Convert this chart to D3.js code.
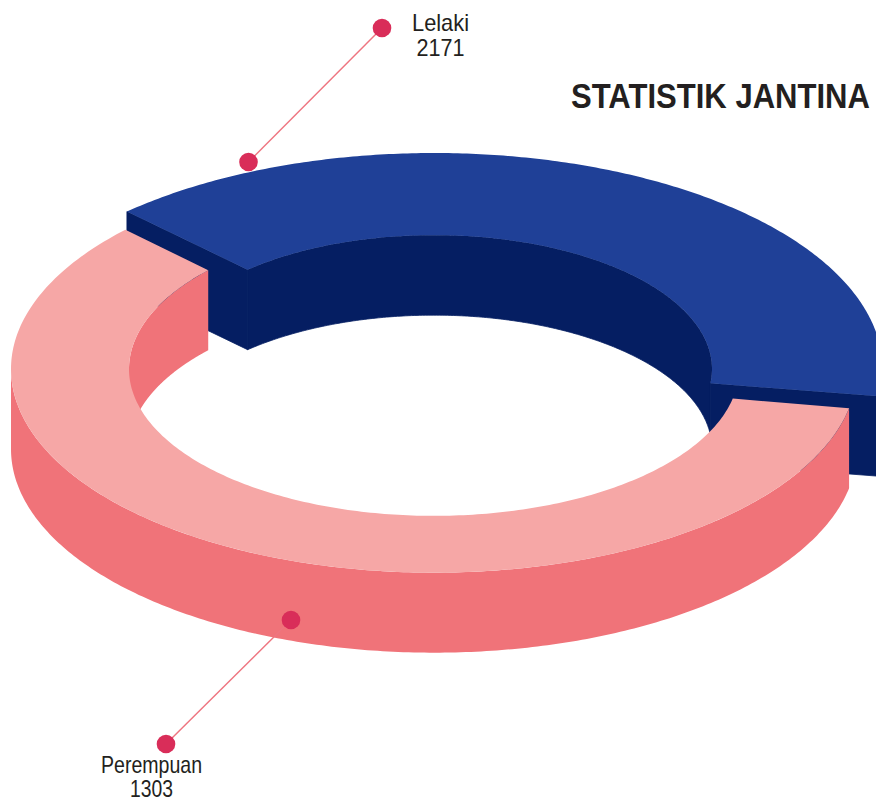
<!DOCTYPE html>
<html lang="en">
<head>
    <meta charset="UTF-8">
    <title>Statistik Jantina</title>
    <script src="https://d3js.org/d3.v7.min.js"></script>
    <style>
        html, body { margin: 0; padding: 0; background: #fff; overflow: hidden; }
        svg { display: block; }
        text { font-family: "Liberation Sans", Arial, sans-serif; fill: #231f20; }
        .title { font-weight: bold; font-size: 35px; }
        .label { font-size: 24px; text-anchor: middle; }
    </style>
</head>
<body>
    <script>
        // data
        const categories = ["Lelaki", "Perempuan"];
        const counts = [2171, 1303];
        // the drawing does not follow the counts, these shares are read off the picture
        const drawnShares = [39.7, 60.3];

        const width = 876;
        const height = 801;
        const cx = 434, cy = 369;
        const squash = 0.4815;      // ellipse height / width
        const depth = 80;           // ring thickness on screen
        const rad = d3.scaleLinear().domain([0, 180]).range([0, Math.PI]);
        const gap = rad(4.75);      // between the two pieces
        const firstAngle = rad(-42.5);

        const outerR = [448.6, 423];
        const innerR = [278, 305];
        // cut edges are not quite radial: degrees added at start outer/inner, end outer/inner
        const edgeSkew = [[-0.7, 0.4, 0.6, -0.5], [-0.3, 0.2, 0.4, -0.5]];
        const topColor = ["#1f4097", "#f6a7a6"];
        const sideColor = ["#051e62", "#f07379"];

        const svg = d3.select("body").append("svg")
            .attr("width", width)
            .attr("height", height);

        // angles come from d3.pie, in radians
        const pie = d3.pie().sort(null)
            .startAngle(firstAngle)
            .endAngle(firstAngle + 2 * Math.PI)
            .padAngle(gap);
        const slices = pie(drawnShares);
        const startOuter = i => slices[i].startAngle + rad(edgeSkew[i][0]);
        const startInner = i => slices[i].startAngle + rad(edgeSkew[i][1]);
        const endOuter = i => slices[i].endAngle - gap + rad(edgeSkew[i][2]);
        const endInner = i => slices[i].endAngle - gap + rad(edgeSkew[i][3]);

        // screen point of ring radius r, angle a (0 = top, clockwise), dropped by z
        const pt = (r, a, z) => [
            cx + r * Math.sin(a),
            cy - r * squash * Math.cos(a) + z
        ];
        const line = d3.line();
        const sweep = (a0, a1) => {
            const n = 240;
            return d3.range(n + 1).map(k => a0 + (a1 - a0) * k / n);
        };

        // top face of a piece
        function topFace(i) {
            const outer = sweep(startOuter(i), endOuter(i)).map(d => pt(outerR[i], d, 0));
            const inner = sweep(endInner(i), startInner(i)).map(d => pt(innerR[i], d, 0));
            return line(outer.concat(inner)) + "Z";
        }
        // wall hanging under an arc
        function wall(r, a0, a1) {
            const a = sweep(a0, a1);
            return line(a.map(d => pt(r, d, 0))
                .concat(a.slice().reverse().map(d => pt(r, d, depth)))) + "Z";
        }
        // flat end of a piece
        function endFace(i, aOuter, aInner) {
            return line([pt(outerR[i], aOuter, 0), pt(innerR[i], aInner, 0),
                pt(innerR[i], aInner, depth), pt(outerR[i], aOuter, depth)]) + "Z";
        }
        const addPath = (d, fill) => svg.append("path").attr("d", d).attr("fill", fill);

        // Lelaki piece, stroked a little so no seams show between the dark faces
        [endFace(0, startOuter(0), startInner(0)),
         wall(innerR[0], startInner(0), endInner(0)),
         endFace(0, endOuter(0), endInner(0))].forEach(d => {
            addPath(d, sideColor[0])
                .attr("stroke", sideColor[0])
                .attr("stroke-width", 0.8);
        });
        addPath(topFace(0), topColor[0]);

        // Perempuan piece, sits in front
        const leftSide = rad(270);
        addPath(wall(innerR[1], leftSide, endInner(1)), sideColor[1]);
        addPath(wall(outerR[1], startOuter(1), leftSide), sideColor[1]);
        addPath(topFace(1), topColor[1]);

        // leader lines with their dots
        const leaders = [
            { from: [248.5, 162], to: [382, 28] },
            { from: [291, 620], to: [166, 744] }
        ];
        leaders.forEach(l => {
            svg.append("line")
                .attr("x1", l.from[0]).attr("y1", l.from[1])
                .attr("x2", l.to[0]).attr("y2", l.to[1])
                .attr("stroke", "#ee7580")
                .attr("stroke-width", 1.5);
            [l.from, l.to].forEach(p => {
                svg.append("circle")
                    .attr("cx", p[0]).attr("cy", p[1]).attr("r", 9.3)
                    .attr("fill", "#d92d59");
            });
        });

        // labels
        const labelPos = [
            { x: 440.5, y: [31, 56], w: [57, 48] },
            { x: 151.5, y: [773, 797], w: [101, 43] }
        ];
        categories.forEach((c, i) => {
            const p = labelPos[i];
            [c, counts[i]].forEach((t, k) => {
                svg.append("text")
                    .attr("class", "label")
                    .attr("x", p.x).attr("y", p.y[k])
                    .attr("textLength", p.w[k])
                    .attr("lengthAdjust", "spacingAndGlyphs")
                    .text(t);
            });
        });

        // title is a narrowed bold face, squeeze it to the width it has in the picture
        const title = svg.append("text")
            .attr("class", "title")
            .text("STATISTIK JANTINA");
        const titleScale = 299 / title.node().getComputedTextLength();
        title.attr("transform", `translate(571,107.5) scale(${titleScale},1)`);
    </script>
</body>
</html>
